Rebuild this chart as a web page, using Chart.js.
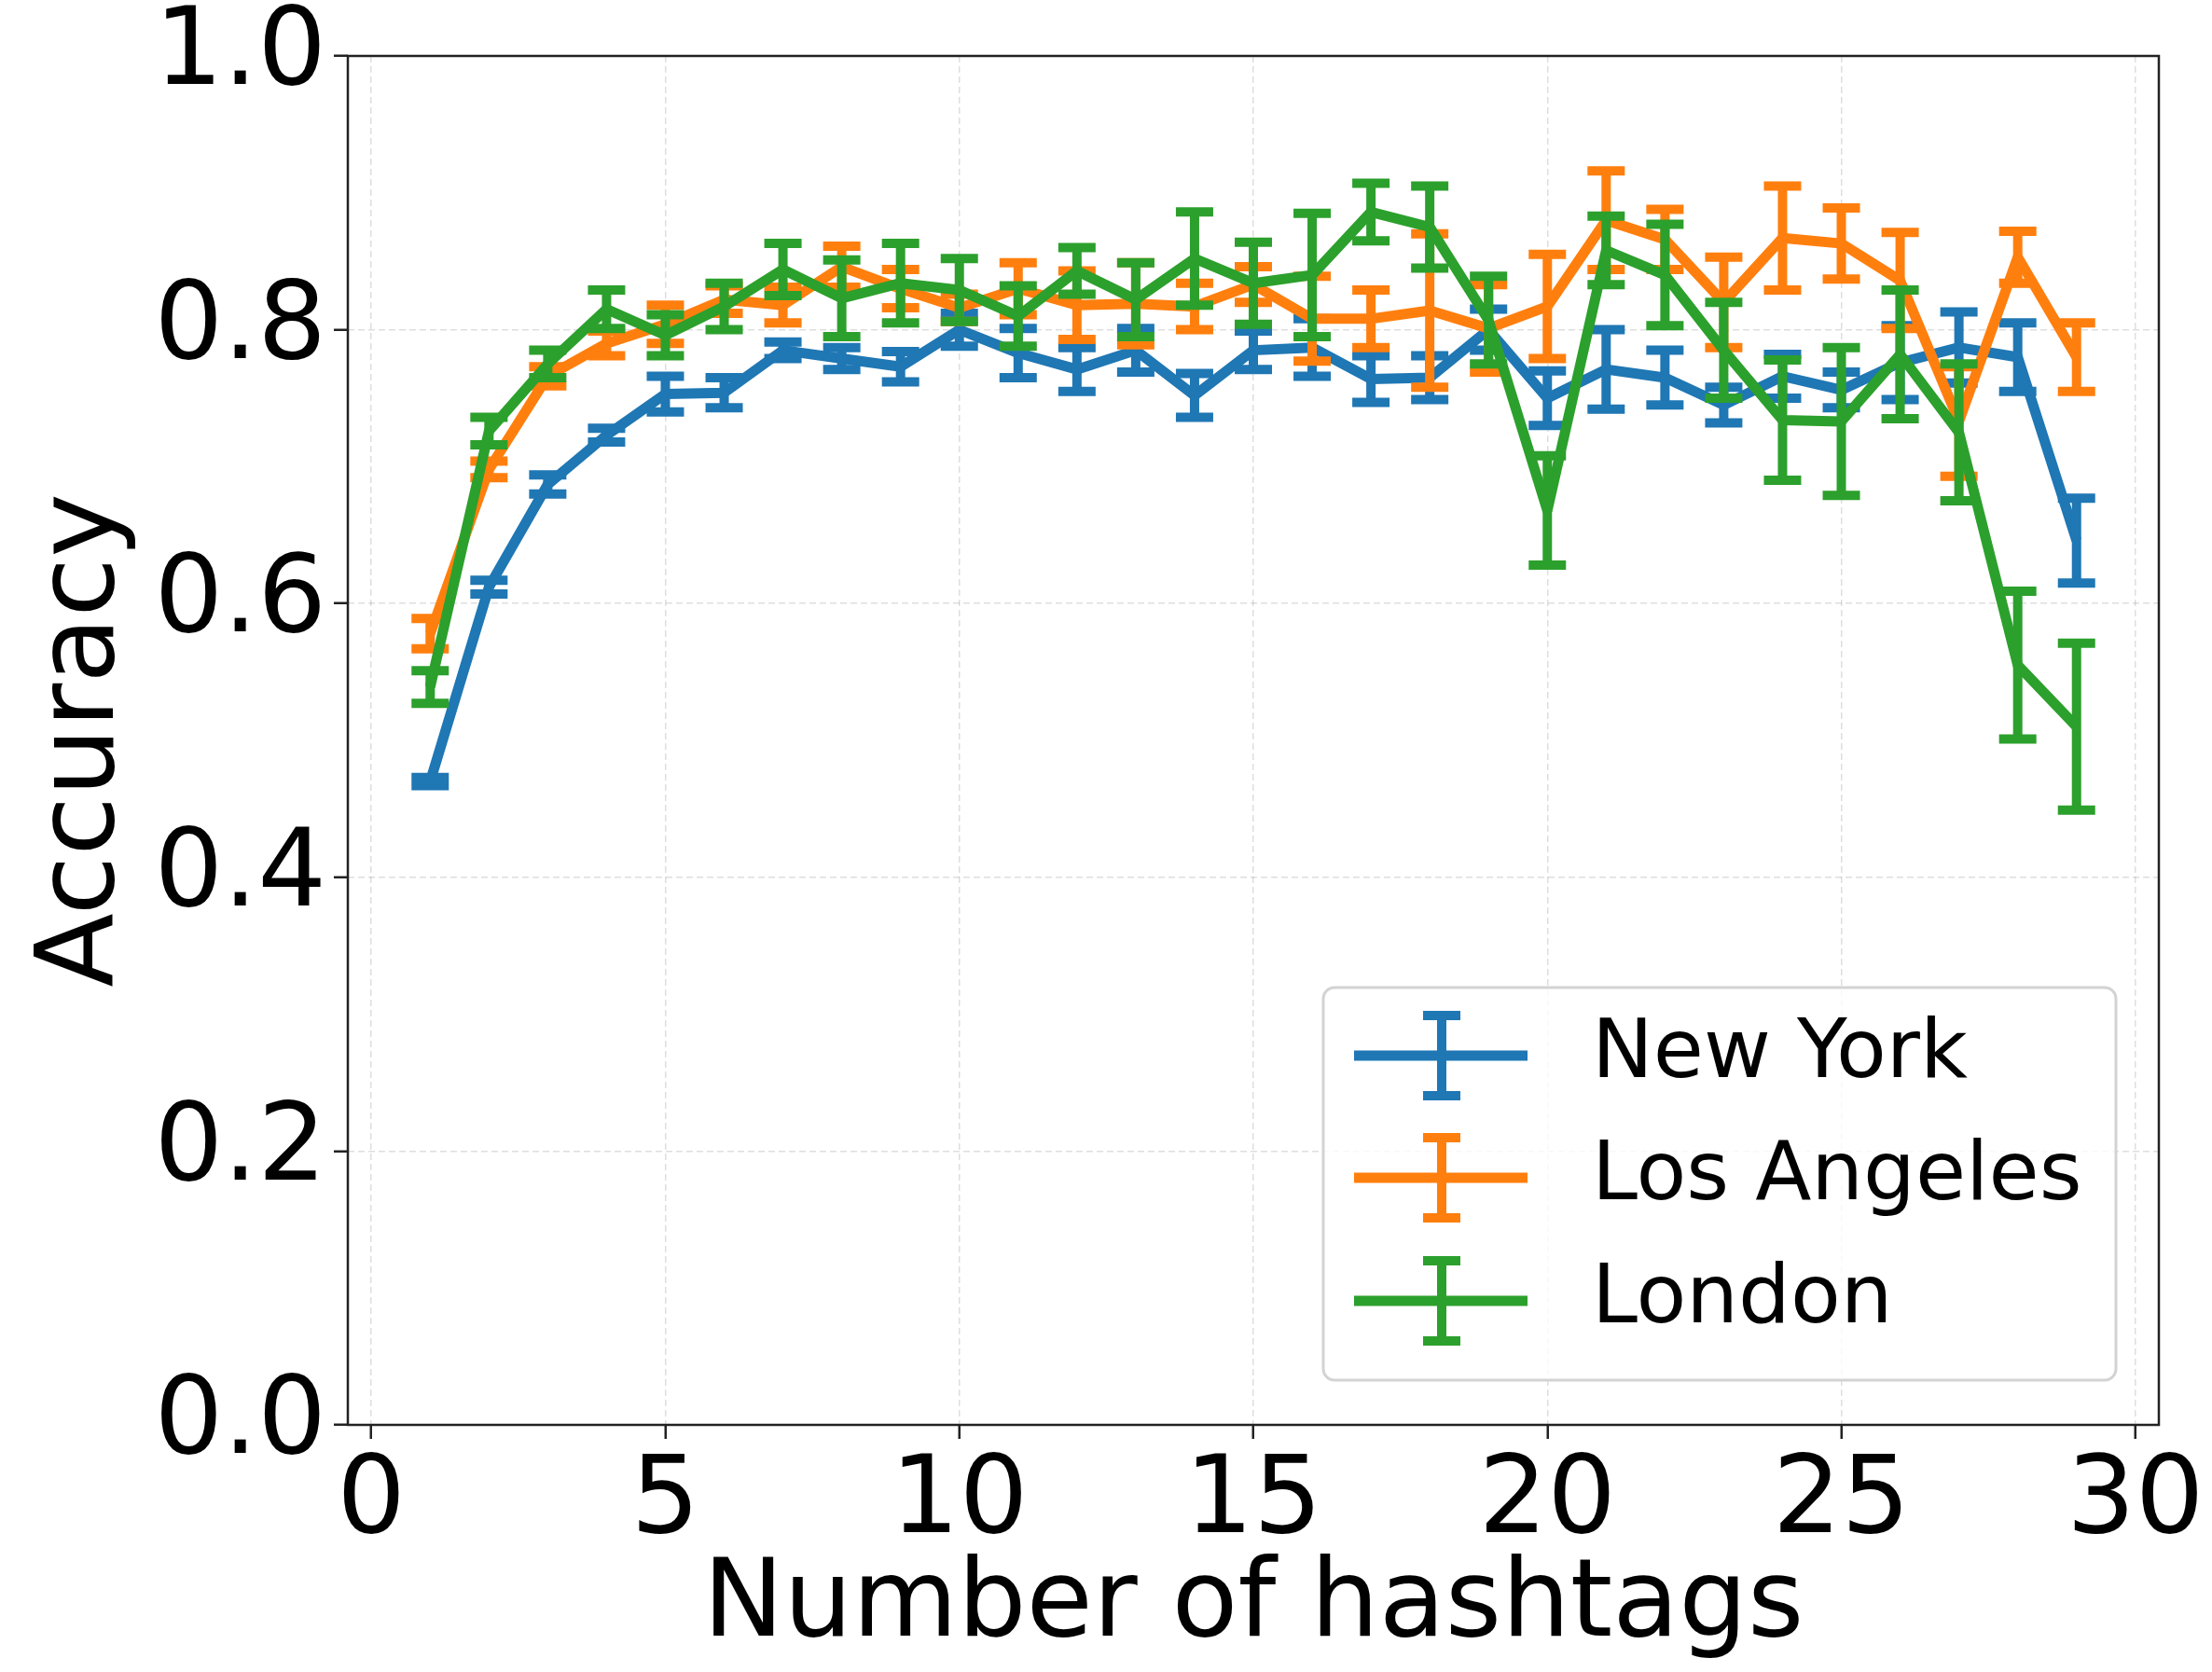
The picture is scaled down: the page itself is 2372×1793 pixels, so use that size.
<!DOCTYPE html>
<html>
<head>
<meta charset="utf-8">
<script src="https://cdn.jsdelivr.net/npm/chart.js@4/dist/chart.umd.min.js"></script>
<style>
  html, body { margin: 0; padding: 0; background: #fff; }
  #wrap { width: 2372px; height: 1793px; }
</style>
</head>
<body>
<div id="wrap"><canvas id="chart" width="2372" height="1793"></canvas></div>
<script>
// number of hashtags
const hashtags = [1, 2, 3, 4, 5, 6, 7, 8, 9, 10, 11, 12, 13, 14, 15, 16, 17, 18, 19, 20, 21, 22, 23, 24, 25, 26, 27, 28, 29];

const seriesNames = ['New York', 'Los Angeles', 'London'];
const seriesColors = ['#1f77b4', '#ff7f0e', '#2ca02c'];

// mean accuracy per city
const newYork = [0.470, 0.612, 0.687, 0.723, 0.753, 0.754, 0.785, 0.779, 0.773, 0.800,
                 0.783, 0.771, 0.785, 0.752, 0.785, 0.787, 0.764, 0.765, 0.800, 0.750,
                 0.771, 0.765, 0.745, 0.766, 0.756, 0.776, 0.787, 0.780, 0.646];
const losAngeles = [0.578, 0.698, 0.766, 0.790, 0.804, 0.822, 0.818, 0.846, 0.830, 0.816,
                    0.830, 0.818, 0.819, 0.817, 0.833, 0.808, 0.808, 0.814, 0.801, 0.817,
                    0.880, 0.866, 0.820, 0.867, 0.863, 0.836, 0.733, 0.853, 0.780];
const london = [0.539, 0.726, 0.775, 0.815, 0.796, 0.817, 0.844, 0.823, 0.834, 0.829,
                0.810, 0.843, 0.822, 0.852, 0.834, 0.840, 0.886, 0.875, 0.807, 0.668,
                0.858, 0.840, 0.785, 0.734, 0.733, 0.782, 0.725, 0.555, 0.510];

// error (half length of bar)
const newYorkErr = [0.003, 0.005, 0.007, 0.005, 0.013, 0.011, 0.006, 0.008, 0.011, 0.012,
                    0.018, 0.016, 0.016, 0.016, 0.014, 0.021, 0.017, 0.016, 0.015, 0.020,
                    0.029, 0.020, 0.013, 0.016, 0.013, 0.027, 0.026, 0.025, 0.031];
const losAngelesErr = [0.011, 0.006, 0.007, 0.009, 0.014, 0.010, 0.013, 0.015, 0.014, 0.010,
                       0.019, 0.025, 0.030, 0.017, 0.013, 0.031, 0.021, 0.056, 0.032, 0.038,
                       0.036, 0.022, 0.033, 0.038, 0.026, 0.035, 0.040, 0.019, 0.025];
const londonErr = [0.012, 0.010, 0.010, 0.014, 0.015, 0.017, 0.019, 0.028, 0.029, 0.023,
                   0.022, 0.017, 0.027, 0.034, 0.030, 0.045, 0.021, 0.030, 0.032, 0.040,
                   0.025, 0.037, 0.035, 0.044, 0.054, 0.047, 0.050, 0.054, 0.061];

const xTicks = [0, 5, 10, 15, 20, 25, 30];
const yTicks = [0.0, 0.2, 0.4, 0.6, 0.8, 1.0];

const allValues = [newYork, losAngeles, london];
const allErrors = [newYorkErr, losAngelesErr, londonErr];

const FONT = "'DejaVu Sans', sans-serif";

// draws the error bars right after each line so later series sit on top
const errorBars = {
    id: 'errorBars',
    afterDatasetDraw(chart, args) {
        let errs = allErrors[args.index];
        let vals = allValues[args.index];
        let xs = chart.scales.x, ys = chart.scales.y;
        let ctx = chart.ctx;
        ctx.save();
        ctx.strokeStyle = seriesColors[args.index];
        ctx.lineWidth = 10;
        for (let i = 0; i < hashtags.length; i++) {
            let px = xs.getPixelForValue(hashtags[i]);
            let top = ys.getPixelForValue(vals[i] + errs[i]);
            let bot = ys.getPixelForValue(vals[i] - errs[i]);
            ctx.beginPath();
            ctx.moveTo(px, top);
            ctx.lineTo(px, bot);
            ctx.stroke();
            ctx.beginPath();
            ctx.moveTo(px - 20, top); ctx.lineTo(px + 20, top);
            ctx.moveTo(px - 20, bot); ctx.lineTo(px + 20, bot);
            ctx.stroke();
        }
        ctx.restore();
    }
};

// box around the axes and the legend in the lower right corner
const frameAndLegend = {
    id: 'frameAndLegend',
    afterDraw(chart) {
        let ctx = chart.ctx;
        let a = chart.chartArea;
        ctx.save();
        ctx.strokeStyle = '#222';
        ctx.lineWidth = 2.5;
        ctx.strokeRect(a.left, a.top, a.right - a.left, a.bottom - a.top);

        // legend frame
        let lx = a.right - 896, ly = a.bottom - 469, lw = 850, lh = 421;
        ctx.beginPath();
        ctx.roundRect(lx, ly, lw, lh, 12);
        ctx.fillStyle = 'rgba(255,255,255,0.8)';
        ctx.fill();
        ctx.strokeStyle = '#d3d3d3';
        ctx.lineWidth = 3;
        ctx.stroke();

        let rows = [a.bottom - 396, a.bottom - 265, a.bottom - 133];
        for (let i = 0; i < seriesNames.length; i++) {
            let cy = rows[i];
            let cx = lx + 127;
            ctx.strokeStyle = seriesColors[i];
            ctx.lineWidth = 11;
            ctx.beginPath();
            ctx.moveTo(lx + 33, cy); ctx.lineTo(lx + 219, cy);
            ctx.stroke();
            ctx.lineWidth = 10;
            ctx.beginPath();
            ctx.moveTo(cx, cy - 43); ctx.lineTo(cx, cy + 43);
            ctx.stroke();
            ctx.beginPath();
            ctx.moveTo(cx - 20, cy - 43); ctx.lineTo(cx + 20, cy - 43);
            ctx.moveTo(cx - 20, cy + 43); ctx.lineTo(cx + 20, cy + 43);
            ctx.stroke();

            ctx.fillStyle = '#000';
            ctx.font = '88px ' + FONT;
            ctx.textBaseline = 'middle';
            ctx.textAlign = 'left';
            ctx.fillText(seriesNames[i], lx + 288, cy);
        }
        ctx.restore();
    }
};

let datasets = [];
for (let i = 0; i < seriesNames.length; i++) {
    datasets.push({
        label: seriesNames[i],
        data: hashtags.map((h, j) => ({x: h, y: allValues[i][j]})),
        borderColor: seriesColors[i],
        backgroundColor: seriesColors[i],
        borderWidth: 11,
        borderJoinStyle: 'round',
        pointRadius: 0,
        fill: false,
        tension: 0,
        order: seriesNames.length - 1 - i
    });
}

let gridOpts = {
    color: 'rgba(0,0,0,0.13)',
    lineWidth: 1.5,
    drawTicks: true,
    tickLength: 15,
    tickColor: '#222',
    tickWidth: 2.5,
    tickBorderDash: []
};

new Chart(document.getElementById('chart').getContext('2d'), {
    type: 'line',
    data: { datasets: datasets },
    options: {
        responsive: false,
        animation: false,
        devicePixelRatio: 1,
        layout: { padding: { left: 0, right: 57, top: 60, bottom: 0 } },
        plugins: {
            legend: { display: false },
            tooltip: { enabled: false }
        },
        scales: {
            x: {
                type: 'linear',
                min: -0.4,
                max: 30.4,
                afterBuildTicks: (scale) => { scale.ticks = xTicks.map(v => ({value: v})); },
                afterFit: (scale) => {
                    scale.height = 265;
                    scale.paddingLeft = 0;
                    scale.paddingRight = 0;
                },
                grid: gridOpts,
                border: { display: false, dash: [7, 4] },
                ticks: {
                    color: '#000',
                    padding: 0,
                    maxRotation: 0,
                    font: { family: FONT, size: 116 },
                    callback: (v) => String(v)
                },
                title: {
                    display: true,
                    text: 'Number of hashtags',
                    color: '#000',
                    padding: { top: 0, bottom: 0 },
                    font: { family: FONT, size: 116 }
                }
            },
            y: {
                type: 'linear',
                min: 0,
                max: 1,
                afterBuildTicks: (scale) => { scale.ticks = yTicks.map(v => ({value: v})); },
                afterFit: (scale) => {
                    scale.width = 373;
                    scale.paddingTop = 0;
                    scale.paddingBottom = 0;
                },
                grid: gridOpts,
                border: { display: false, dash: [7, 4] },
                ticks: {
                    color: '#000',
                    padding: 8,
                    font: { family: FONT, size: 116 },
                    callback: (v) => Number(v).toFixed(1)
                },
                title: {
                    display: true,
                    text: 'Accuracy',
                    color: '#000',
                    padding: { top: 21, bottom: 0 },
                    font: { family: FONT, size: 116 }
                }
            }
        }
    },
    plugins: [errorBars, frameAndLegend]
});
</script>
</body>
</html>
